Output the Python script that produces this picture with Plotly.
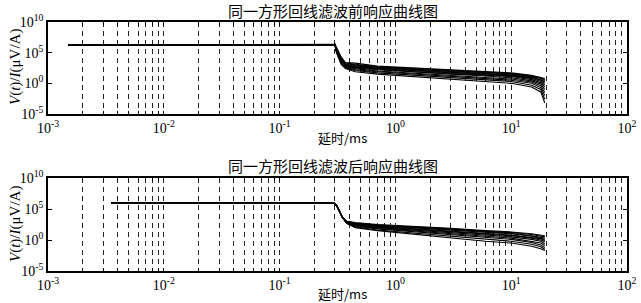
import plotly.graph_objects as go

# ---------------- data ----------------
T_TOP = [0.0015, 0.29, 0.30, 0.31, 0.34, 0.37, 0.45, 0.7, 1.5, 3, 6, 10, 15, 18, 19.5]
FLAT_TOP = 1.8e6
SPIKE_TOP = [2.6e6, 1.8e6, 2.4e6, 1.8e6, 2.2e6, 1.8e6, 2.6e6, 1.8e6, 2.0e6, 1.8e6, 1.8e6, 2.3e6]
TOP_CURVES = [
    [6.3e5, 2.0e4, 2.5e3, 2.0e3, 6.3e2, 3.2e2, 1.6e2, 79, 50, 20, 10, 6.3],
    [4.0e5, 1.26e4, 2.0e3, 1.26e3, 5.0e2, 2.5e2, 1.26e2, 63, 40, 16, 7.9, 4.0],
    [5.0e5, 1.0e4, 1.6e3, 1.0e3, 4.0e2, 2.0e2, 1.0e2, 50, 32, 12.6, 6.3, 2.5],
    [3.2e5, 7.9e3, 1.26e3, 7.9e2, 4.0e2, 1.6e2, 79, 40, 25, 10, 4.0, 1.6],
    [2.5e5, 6.3e3, 1.0e3, 6.3e2, 3.2e2, 1.26e2, 63, 32, 20, 7.9, 3.2, 1.0],
    [4.0e5, 6.3e3, 1.0e3, 5.0e2, 2.5e2, 1.0e2, 50, 25, 16, 6.3, 2.0, 0.5],
    [2.0e5, 5.0e3, 7.9e2, 4.0e2, 2.0e2, 79, 40, 20, 12.6, 4.0, 1.26, 0.25],
    [1.6e5, 4.0e3, 6.3e2, 3.2e2, 1.6e2, 63, 32, 16, 7.9, 2.5, 0.79, 0.1],
    [2.5e5, 3.2e3, 5.0e2, 2.5e2, 1.0e2, 40, 20, 10, 5.0, 1.6, 0.4, 0.032],
    [1.26e5, 2.5e3, 4.0e2, 1.6e2, 79, 32, 12.6, 6.3, 3.2, 1.0, 0.2, 0.01],
    [1.0e5, 2.0e3, 3.2e2, 1.26e2, 50, 20, 7.9, 3.2, 2.0, 0.5, 0.1, 0.0025],
    [1.0e5, 1.26e3, 2.5e2, 79, 32, 12.6, 5.0, 2.0, 1.0, 0.25, 0.04, 6.3e-4],
]

T_BOT = [0.0035, 0.29, 0.31, 0.33, 0.35, 0.38, 0.45, 0.7, 1.5, 3, 6, 10, 15, 18, 19.5]
HEAD_BOT = [1.05e6, 1.05e6, 4.0e5, 3.2e4, 4.0e3]
BOT_CURVES = [
    [1.0e3, 6.3e2, 3.2e2, 1.6e2, 79, 32, 20, 10, 6.3, 5.0],
    [1.0e3, 5.0e2, 2.5e2, 1.26e2, 63, 25, 16, 7.9, 5.0, 3.2],
    [7.9e2, 5.0e2, 2.5e2, 1.0e2, 50, 20, 12.6, 5.0, 3.2, 2.0],
    [7.9e2, 4.0e2, 2.0e2, 79, 40, 16, 10, 4.0, 2.0, 1.26],
    [7.9e2, 3.2e2, 1.6e2, 63, 32, 12.6, 6.3, 2.5, 1.6, 0.79],
    [6.3e2, 3.2e2, 1.26e2, 50, 20, 7.9, 5.0, 2.0, 1.0, 0.5],
    [6.3e2, 2.5e2, 1.0e2, 40, 16, 6.3, 3.2, 1.26, 0.63, 0.25],
    [6.3e2, 2.0e2, 79, 25, 10, 4.0, 2.0, 0.63, 0.32, 0.126],
    [5.0e2, 1.6e2, 63, 20, 6.3, 2.5, 1.26, 0.4, 0.16, 0.063],
    [5.0e2, 1.26e2, 40, 12.6, 4.0, 1.26, 0.63, 0.2, 0.079, 0.032],
    [5.0e2, 1.0e2, 32, 7.9, 2.0, 0.63, 0.32, 0.1, 0.04, 0.02],
]

X_DECADES = [-3, -2, -1, 0, 1, 2]
Y_DECADES = [-5, 0, 5, 10]
TITLE_TOP = "同一方形回线滤波前响应曲线图"
TITLE_BOT = "同一方形回线滤波后响应曲线图"
X_TITLE = "延时/ms"
Y_TITLE = "<i>V</i>(<i>t</i>)/<i>I</i>(μV/A)"

fig = go.Figure()
for i, vals in enumerate(TOP_CURVES):
    y = [FLAT_TOP, FLAT_TOP, SPIKE_TOP[i]] + vals
    fig.add_trace(go.Scatter(x=T_TOP, y=y, mode="lines", xaxis="x", yaxis="y",
                             line=dict(color="black", width=1.1), showlegend=False,
                             hoverinfo="skip"))
for vals in BOT_CURVES:
    y = HEAD_BOT + vals
    fig.add_trace(go.Scatter(x=T_BOT, y=y, mode="lines", xaxis="x2", yaxis="y2",
                             line=dict(color="black", width=1.1), showlegend=False,
                             hoverinfo="skip"))

xtickvals, xticktext = [], []
for d in X_DECADES:
    for m in range(1, 10):
        if d == X_DECADES[-1] and m > 1:
            break
        xtickvals.append(m * 10.0 ** d)
        xticktext.append(f"10<sup>{d}</sup>" if m == 1 else "")
ytickvals = [10.0 ** d for d in Y_DECADES]
yticktext = [f"10<sup>{d}</sup>" for d in Y_DECADES]

W, H = 641, 303
serif = "Liberation Serif, Times New Roman, serif"
tickfont = dict(family=serif, size=14, color="black")

xbase = dict(type="log", range=[-3, 2], tickvals=xtickvals, ticktext=xticktext,
             showgrid=True, gridcolor="#222", griddash="5px,4px", gridwidth=1,
             showline=True, linecolor="black", linewidth=1.5, mirror="ticks",
             ticks="inside", ticklen=3, tickcolor="black", tickfont=tickfont,
             zeroline=False, automargin=False, domain=[48 / W, 627 / W])
ybase = dict(type="log", range=[-5, 10], tickvals=ytickvals, ticktext=yticktext,
             showgrid=False, showline=True, linecolor="black", linewidth=1.5,
             mirror="ticks", ticks="inside", ticklen=4, tickcolor="black",
             tickfont=tickfont, zeroline=False, automargin=False)

fig.update_layout(
    width=W, height=H, autosize=False,
    margin=dict(l=0, r=0, t=0, b=0, pad=0),
    paper_bgcolor="white", plot_bgcolor="white",
    xaxis=dict(xbase, anchor="y"),
    yaxis=dict(ybase, anchor="x", domain=[(H - 114) / H, (H - 22) / H]),
    xaxis2=dict(xbase, anchor="y2"),
    yaxis2=dict(ybase, anchor="x2", domain=[(H - 271) / H, (H - 178) / H]),
)

cjk = "Noto Sans CJK SC, Liberation Serif, serif"
ann = [
    dict(text=TITLE_TOP, x=333 / W, y=(H - 11) / H, font=dict(family=cjk, size=15, color="black")),
    dict(text=TITLE_BOT, x=333 / W, y=(H - 165) / H, font=dict(family=cjk, size=15, color="black")),
    dict(text=X_TITLE, x=342 / W, y=(H - 137) / H, font=dict(family=cjk, size=13, color="black")),
    dict(text=X_TITLE, x=342 / W, y=(H - 293) / H, font=dict(family=cjk, size=13, color="black")),
    dict(text=Y_TITLE, x=15 / W, y=(H - 67) / H, textangle=-90,
         font=dict(family=serif, size=15, color="black")),
    dict(text=Y_TITLE, x=15 / W, y=(H - 224) / H, textangle=-90,
         font=dict(family=serif, size=15, color="black")),
]
for a in ann:
    a.update(xref="paper", yref="paper", showarrow=False, xanchor="center", yanchor="middle")
fig.update_layout(annotations=ann)

fig.write_html(
    "out.html",
    config={"displayModeBar": False},
    post_script="document.body.style.margin='0';document.body.style.padding='0';"
                "document.documentElement.style.overflow='hidden';",
)
